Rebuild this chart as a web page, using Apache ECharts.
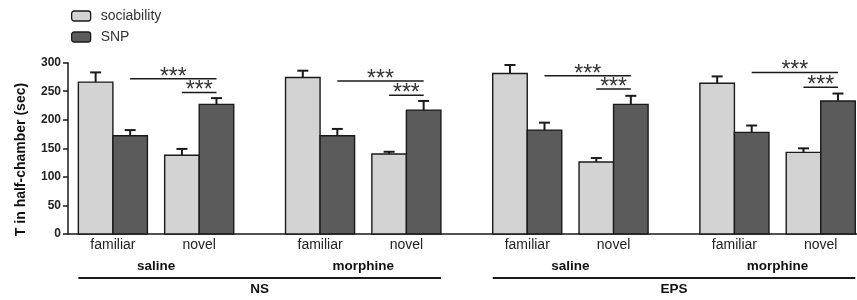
<!DOCTYPE html>
<html><head><meta charset="utf-8">
<script src="https://cdn.jsdelivr.net/npm/echarts@6/dist/echarts.min.js"></script>
<style>html,body{margin:0;padding:0;background:#fff}#c{width:857px;height:300px}</style>
</head><body><div id="c"></div>
<script>
// ---- data (order: NS saline fam, NS saline novel, NS morphine fam, NS morphine novel, EPS saline fam, EPS saline novel, EPS morphine fam, EPS morphine novel)
const conditions = ['familiar','novel','familiar','novel','familiar','novel','familiar','novel'];
const treatments = ['saline','morphine','saline','morphine'];
const groups = ['NS','EPS'];
const seriesNames = ['sociability','SNP'];
const sociability = [266, 138, 274, 140, 281, 126, 264, 143];
const sociabilityErr = [17, 11, 12, 4, 15, 7, 12, 7];
const snp = [172, 227, 172, 217, 182, 227, 178, 233];
const snpErr = [10, 11, 12, 16, 13, 15, 12, 13];
const sigLabel = '***';
const sigLongLevel = [272, 268, 277, 283];
const sigShortLevel = [248, 243, 254, 257];
const yTicks = [0, 50, 100, 150, 200, 250, 300];
const yAxisTitle = 'T in half-chamber (sec)';

const FONT = '"Liberation Sans", Arial, sans-serif';
const COL_SOC = '#d3d3d3', COL_SNP = '#5b5b5b', INK = '#1a1a1a';

// layout position of each familiar/novel pair
function pairCenter(i) { return i * 2.5 + Math.floor(i / 2) * 1.0; }

function barRender(color) {
  return function (params, api) {
    const c = api.value(0), v = api.value(1), e = api.value(2);
    const tl = api.coord([c - 0.5, v]);
    const br = api.coord([c + 0.5, 0]);
    const top = api.coord([c, v + e]);
    const cx = (tl[0] + br[0]) / 2;
    const cap = 5.5;
    return {
      type: 'group', children: [
        { type: 'line', shape: { x1: cx, y1: tl[1], x2: cx, y2: top[1] }, style: { stroke: INK, lineWidth: 2 } },
        { type: 'line', shape: { x1: cx - cap, y1: top[1], x2: cx + cap, y2: top[1] }, style: { stroke: INK, lineWidth: 2 } },
        { type: 'rect', shape: { x: tl[0], y: tl[1], width: br[0] - tl[0], height: br[1] - tl[1] }, style: { fill: color, stroke: INK, lineWidth: 1.4 } }
      ]
    };
  };
}

const chart = echarts.init(document.getElementById('c'), null, { renderer: 'canvas' });
chart.setOption({
  animation: false,
  backgroundColor: '#fff',
  textStyle: { fontFamily: FONT },
  grid: { left: 68, right: 0, top: 62.7, bottom: 66, containLabel: false },
  legend: {
    orient: 'vertical', left: 71, top: 9, padding: 0, itemWidth: 19, itemHeight: 10, itemGap: 7,
    textStyle: { fontSize: 14, color: '#333', fontFamily: FONT, padding: [0, 0, 0, 5] },
    data: [
      { name: seriesNames[0], icon: 'roundRect', itemStyle: { color: COL_SOC, borderColor: INK, borderWidth: 1.3 } },
      { name: seriesNames[1], icon: 'roundRect', itemStyle: { color: COL_SNP, borderColor: INK, borderWidth: 1.3 } }
    ]
  },
  xAxis: {
    type: 'value', min: -1.3, max: 21.55,
    axisLine: { show: true, onZero: false, lineStyle: { color: INK, width: 1.5 } },
    axisTick: { show: false }, axisLabel: { show: false }, splitLine: { show: false }
  },
  yAxis: {
    type: 'value', min: yTicks[0], max: yTicks[yTicks.length - 1], interval: 50,
    axisLine: { show: true, onZero: false, lineStyle: { color: INK, width: 1.5 } },
    axisTick: { show: true, inside: false, length: 5, lineStyle: { color: INK, width: 1.5 } },
    axisLabel: { margin: 7, fontSize: 12, fontWeight: 'bold', color: '#222', fontFamily: FONT },
    splitLine: { show: false }
  },
  series: [
    { name: seriesNames[0], type: 'custom', renderItem: barRender(COL_SOC), itemStyle: { color: COL_SOC },
      encode: { x: 0, y: 1 }, clip: false,
      data: sociability.map((v, i) => [pairCenter(i) - 0.5, v, sociabilityErr[i]]) },
    { name: seriesNames[1], type: 'custom', renderItem: barRender(COL_SNP), itemStyle: { color: COL_SNP },
      encode: { x: 0, y: 1 }, clip: false,
      data: snp.map((v, i) => [pairCenter(i) + 0.5, v, snpErr[i]]) }
  ]
});

// annotations placed with the chart's own scale
const px = (x, y) => chart.convertToPixel({ gridIndex: 0 }, [x, y]);
const base = px(0, 0)[1];
const g = [];
g.push({ type: 'text', x: 21, y: 159.5, rotation: Math.PI / 2,
  style: { text: yAxisTitle, font: 'bold 14px ' + FONT, fill: '#111', align: 'center', verticalAlign: 'middle' } });
conditions.forEach((c, i) => {
  g.push({ type: 'text', x: px(pairCenter(i), 0)[0], y: base + 11,
    style: { text: c, font: '14px ' + FONT, fill: '#222', align: 'center', verticalAlign: 'middle' } });
});
const starStyle = { font: '23px ' + FONT, fill: '#333', align: 'center', verticalAlign: 'middle' };
treatments.forEach((t, k) => {
  const xm = (px(pairCenter(2 * k), 0)[0] + px(pairCenter(2 * k + 1), 0)[0]) / 2;
  g.push({ type: 'text', x: xm, y: base + 32,
    style: { text: t, font: 'bold 13.5px ' + FONT, fill: '#111', align: 'center', verticalAlign: 'middle' } });
  // significance brackets
  const l1 = px(pairCenter(2 * k) + 0.5, sigLongLevel[k]);
  const l2 = px(pairCenter(2 * k + 1) + 0.5, sigLongLevel[k]);
  g.push({ type: 'line', shape: { x1: l1[0], y1: l1[1], x2: l2[0], y2: l2[1] }, style: { stroke: INK, lineWidth: 1.5 } });
  g.push({ type: 'text', x: (l1[0] + l2[0]) / 2, y: l1[1] - 1.5, style: Object.assign({ text: sigLabel }, starStyle) });
  const s1 = px(pairCenter(2 * k + 1) - 0.5, sigShortLevel[k]);
  const s2 = px(pairCenter(2 * k + 1) + 0.5, sigShortLevel[k]);
  g.push({ type: 'line', shape: { x1: s1[0], y1: s1[1], x2: s2[0], y2: s2[1] }, style: { stroke: INK, lineWidth: 1.5 } });
  g.push({ type: 'text', x: (s1[0] + s2[0]) / 2, y: s1[1] - 1.5, style: Object.assign({ text: sigLabel }, starStyle) });
});
groups.forEach((name, gi) => {
  const a = px(pairCenter(4 * gi) - 1, 0)[0];
  const b = px(pairCenter(4 * gi + 3) + 1, 0)[0];
  g.push({ type: 'line', shape: { x1: a, y1: base + 44, x2: b, y2: base + 44 }, style: { stroke: INK, lineWidth: 2 } });
  g.push({ type: 'text', x: (a + b) / 2, y: base + 55,
    style: { text: name, font: 'bold 13.5px ' + FONT, fill: '#111', align: 'center', verticalAlign: 'middle' } });
});
chart.setOption({ graphic: g });
</script></body></html>
